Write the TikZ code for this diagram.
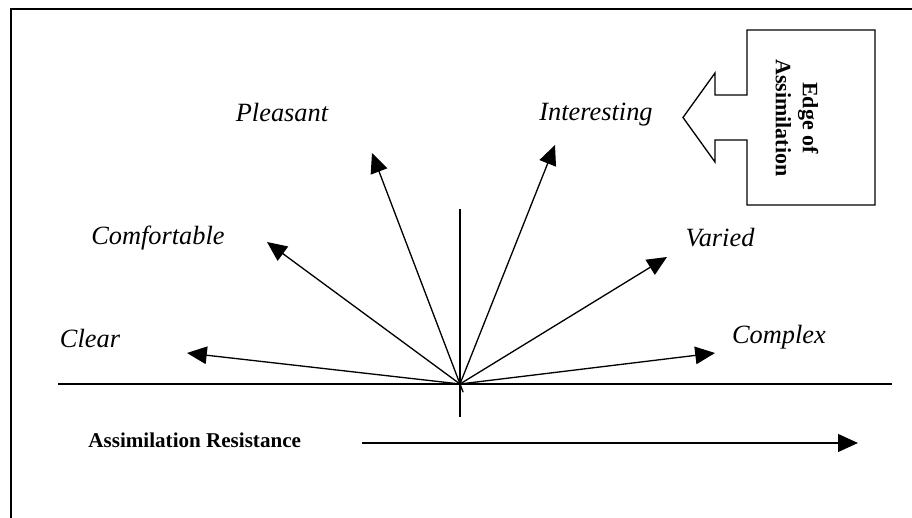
\documentclass[tikz,border=0pt]{standalone}
\usepackage{fontspec}
\setmainfont{Liberation Serif}
\usetikzlibrary{arrows.meta, positioning, calc, fit}

\tikzset{
  lbl/.style={font=\fontsize{12}{14}\selectfont\itshape, inner sep=0pt},
  ray/.style={line width=0.6pt, -{Triangle[length=9pt, width=8pt]}},
}

\begin{document}
\begin{tikzpicture}[x=0.016cm, y=-0.016cm]
\useasboundingbox (0,0) rectangle (912,518);
\clip (0,0) rectangle (912,518);
\draw[line width=0.9pt] (11,9) rectangle (940,560);

% axes
\coordinate (o) at (460,384);
\coordinate (axl) at (58,384);
\coordinate (axr) at (892,384);
\coordinate (axt) at (460,209);
\coordinate (axb) at (460,417);
\draw[line width=0.9pt] (axl) -- (axr);
\draw[line width=0.6pt] (axt) -- (axb);

% arrow tips
\coordinate (tclear) at (187,353);
\coordinate (tcomf) at (267,242);
\coordinate (tpleas) at (372,153);
\coordinate (tinter) at (555,145);
\coordinate (tvaried) at (667,257);
\coordinate (tcplx) at (715,353);

\draw[ray] (o) -- (tclear);
\draw[ray] (o) -- (tcomf);
\draw[ray, shorten <=-4pt] (o) -- (tpleas);
\draw[ray] (o) -- (tinter);
\draw[ray] (o) -- (tvaried);
\draw[ray] (o) -- (tcplx);

% labels
\node[lbl] (clear) at (90,338) {Clear};
\node[lbl] (comf) at (158,238) {Comfortable};
\node[lbl] (pleas) at (282,113) {Pleasant};
\node[lbl] (inter) at (596,115) {Interesting};
\node[lbl] (varied) at (720,238) {Varied};
\node[lbl] (cplx) at (779,337) {Complex};

% resistance axis
\node[font=\fontsize{9.6}{12}\selectfont\bfseries, anchor=west, inner sep=0pt] (res) at (88,440) {Assimilation Resistance};
\coordinate (rs) at (362,443);
\coordinate (re) at (858,443);
\draw[ray, line width=0.9pt] (rs) -- (re);

% callout
\draw[line width=0.6pt] (747,30) -- (875,30) -- (875,205) -- (747,205) -- (747,140)
  -- (715,140) -- (715,162) -- (683,117.5) -- (715,73) -- (715,95) -- (747,95) -- cycle;
\node[rotate=-90, align=center, font=\fontsize{10}{12.3}\selectfont\bfseries, inner sep=0pt] (edge) at (797,118) {Edge of\\Assimilation};
\end{tikzpicture}
\end{document}
